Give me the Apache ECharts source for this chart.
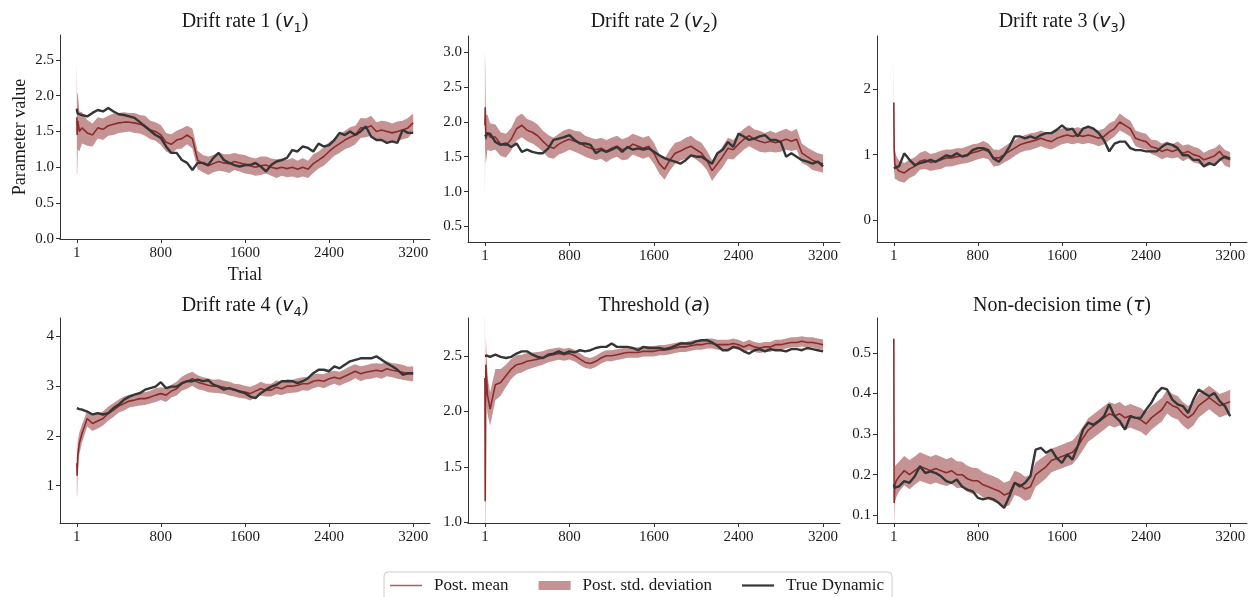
<!DOCTYPE html>
<html>
<head>
<meta charset="utf-8">
<title>Parameter recovery</title>
<script src="https://cdn.jsdelivr.net/npm/echarts@6/dist/echarts.min.js"></script>
<style>
  html, body { margin: 0; padding: 0; background: #ffffff; }
  #chart { width: 1257px; height: 597px; }
</style>
</head>
<body>
<div id="chart"></div>
<script>
// Trials at which each trajectory is sampled
const TRIALS = [1, 4, 10, 25, 50,
  100, 150, 200, 250, 300, 350, 400, 450, 500, 550,
  600, 650, 700, 750, 800, 850, 900, 950, 1000, 1050,
  1100, 1150, 1200, 1250, 1300, 1350, 1400, 1450, 1500, 1550,
  1600, 1650, 1700, 1750, 1800, 1850, 1900, 1950, 2000, 2050,
  2100, 2150, 2200, 2250, 2300, 2350, 2400, 2450, 2500, 2550,
  2600, 2650, 2700, 2750, 2800, 2850, 2900, 2950, 3000, 3050,
  3100, 3150, 3200];

const X_TICKS = [1, 800, 1600, 2400, 3200];

// Drift rate 1
const V1_TRUE = [1.82, 1.78, 1.75, 1.74, 1.73,
  1.71, 1.76, 1.80, 1.78, 1.83, 1.78, 1.74, 1.73, 1.71, 1.69,
  1.63, 1.57, 1.51, 1.45, 1.41, 1.29, 1.20, 1.20, 1.10, 1.06,
  0.96, 1.06, 1.06, 1.03, 1.13, 1.20, 1.10, 1.06, 1.03, 1.01,
  1.03, 1.03, 1.06, 1.01, 0.94, 1.03, 1.08, 1.10, 1.13, 1.24,
  1.22, 1.29, 1.27, 1.22, 1.33, 1.29, 1.31, 1.38, 1.48, 1.45,
  1.50, 1.45, 1.50, 1.57, 1.43, 1.38, 1.38, 1.34, 1.36, 1.34,
  1.52, 1.48, 1.48];
const V1_MEAN = [1.70, 1.45, 1.65, 1.50, 1.55,
  1.48, 1.45, 1.55, 1.53, 1.58, 1.60, 1.62, 1.63, 1.63, 1.62,
  1.60, 1.58, 1.52, 1.50, 1.45, 1.35, 1.32, 1.38, 1.40, 1.45,
  1.40, 1.10, 1.05, 1.02, 1.05, 1.08, 1.06, 1.05, 1.08, 1.06,
  1.04, 1.02, 1.00, 1.02, 1.03, 1.00, 0.98, 1.00, 0.98, 1.00,
  0.97, 1.00, 0.97, 1.05, 1.10, 1.15, 1.22, 1.28, 1.33, 1.38,
  1.42, 1.45, 1.55, 1.55, 1.58, 1.50, 1.52, 1.50, 1.48, 1.50,
  1.52, 1.55, 1.62];
const V1_SD = [0.80, 0.55, 0.40, 0.28, 0.22,
  0.18, 0.16, 0.15, 0.15, 0.14, 0.15, 0.14, 0.14, 0.13, 0.14,
  0.13, 0.14, 0.13, 0.13, 0.14, 0.13, 0.14, 0.13, 0.14, 0.13,
  0.14, 0.13, 0.12, 0.13, 0.12, 0.13, 0.12, 0.13, 0.12, 0.12,
  0.13, 0.12, 0.12, 0.13, 0.12, 0.12, 0.13, 0.12, 0.12, 0.13,
  0.12, 0.13, 0.12, 0.13, 0.12, 0.13, 0.13, 0.12, 0.13, 0.13,
  0.14, 0.13, 0.14, 0.13, 0.14, 0.13, 0.13, 0.14, 0.13, 0.14,
  0.13, 0.14, 0.13];
const V1_TICKS = [0.0, 0.5, 1.0, 1.5, 2.0, 2.5];

// Drift rate 2
const V2_TRUE = [1.79, 1.77, 1.80, 1.83, 1.83,
  1.71, 1.67, 1.69, 1.64, 1.69, 1.57, 1.60, 1.57, 1.55, 1.55,
  1.62, 1.74, 1.76, 1.78, 1.81, 1.74, 1.69, 1.69, 1.67, 1.55,
  1.60, 1.57, 1.60, 1.64, 1.57, 1.64, 1.60, 1.62, 1.60, 1.62,
  1.57, 1.52, 1.48, 1.45, 1.43, 1.40, 1.45, 1.52, 1.50, 1.50,
  1.45, 1.40, 1.55, 1.60, 1.71, 1.64, 1.83, 1.79, 1.74, 1.76,
  1.79, 1.81, 1.74, 1.74, 1.71, 1.50, 1.55, 1.50, 1.45, 1.43,
  1.40, 1.43, 1.36];
const V2_MEAN = [1.95, 2.21, 1.75, 1.85, 1.78,
  1.78, 1.68, 1.66, 1.75, 1.90, 1.95, 1.88, 1.85, 1.80, 1.72,
  1.65, 1.62, 1.68, 1.72, 1.75, 1.72, 1.70, 1.65, 1.62, 1.60,
  1.62, 1.58, 1.62, 1.65, 1.60, 1.62, 1.68, 1.65, 1.62, 1.65,
  1.55, 1.40, 1.32, 1.45, 1.55, 1.58, 1.62, 1.65, 1.60, 1.55,
  1.45, 1.30, 1.40, 1.50, 1.62, 1.60, 1.68, 1.75, 1.80, 1.75,
  1.72, 1.70, 1.72, 1.70, 1.72, 1.75, 1.72, 1.75, 1.55, 1.50,
  1.45, 1.42, 1.40];
const V2_SD = [1.05, 0.60, 0.35, 0.25, 0.20,
  0.18, 0.17, 0.17, 0.16, 0.17, 0.17, 0.16, 0.16, 0.16, 0.15,
  0.16, 0.15, 0.15, 0.16, 0.15, 0.15, 0.16, 0.15, 0.15, 0.15,
  0.15, 0.16, 0.15, 0.15, 0.15, 0.16, 0.15, 0.15, 0.15, 0.15,
  0.15, 0.14, 0.15, 0.15, 0.15, 0.14, 0.15, 0.15, 0.14, 0.15,
  0.14, 0.15, 0.14, 0.15, 0.15, 0.14, 0.15, 0.15, 0.15, 0.14,
  0.15, 0.14, 0.15, 0.14, 0.15, 0.15, 0.14, 0.15, 0.14, 0.13,
  0.14, 0.13, 0.13];
const V2_TICKS = [0.5, 1.0, 1.5, 2.0, 2.5, 3.0];

// Drift rate 3
const V3_TRUE = [0.79, 0.79, 0.80, 0.81, 0.82,
  1.02, 0.92, 0.84, 0.87, 0.89, 0.92, 0.89, 0.94, 0.99, 0.97,
  1.02, 0.97, 0.99, 1.07, 1.10, 1.10, 1.07, 0.94, 0.89, 0.99,
  1.12, 1.28, 1.28, 1.25, 1.28, 1.25, 1.30, 1.33, 1.33, 1.38,
  1.45, 1.38, 1.40, 1.28, 1.40, 1.43, 1.40, 1.33, 1.22, 1.05,
  1.17, 1.20, 1.20, 1.10, 1.07, 1.07, 1.05, 1.05, 1.05, 1.12,
  1.17, 1.15, 1.10, 0.99, 0.99, 0.92, 0.92, 0.82, 0.87, 0.84,
  0.92, 0.97, 0.94];
const V3_MEAN = [1.80, 1.10, 0.85, 0.80, 0.75,
  0.72, 0.78, 0.82, 0.90, 0.92, 0.88, 0.90, 0.92, 0.95, 0.95,
  0.97, 0.98, 1.00, 1.03, 1.05, 1.08, 1.05, 0.95, 0.95, 1.00,
  1.05, 1.10, 1.15, 1.18, 1.20, 1.22, 1.25, 1.22, 1.20, 1.25,
  1.28, 1.30, 1.28, 1.30, 1.28, 1.30, 1.28, 1.25, 1.28, 1.35,
  1.40, 1.50, 1.45, 1.40, 1.25, 1.22, 1.20, 1.12, 1.10, 1.05,
  1.08, 1.05, 1.08, 1.02, 1.05, 1.00, 0.98, 0.92, 0.95, 0.98,
  1.05, 0.95, 0.92];
const V3_SD = [0.70, 0.35, 0.22, 0.18, 0.16,
  0.15, 0.14, 0.14, 0.13, 0.14, 0.13, 0.13, 0.14, 0.13, 0.13,
  0.13, 0.12, 0.13, 0.13, 0.12, 0.13, 0.12, 0.13, 0.12, 0.12,
  0.13, 0.12, 0.12, 0.12, 0.13, 0.12, 0.12, 0.12, 0.12, 0.13,
  0.12, 0.12, 0.12, 0.12, 0.12, 0.12, 0.12, 0.12, 0.12, 0.13,
  0.12, 0.13, 0.12, 0.12, 0.12, 0.12, 0.12, 0.11, 0.12, 0.12,
  0.12, 0.11, 0.12, 0.12, 0.11, 0.12, 0.12, 0.11, 0.12, 0.12,
  0.11, 0.12, 0.12];
const V3_TICKS = [0, 1, 2];

// Drift rate 4
const V4_TRUE = [2.56, 2.55, 2.55, 2.54, 2.53,
  2.49, 2.43, 2.46, 2.43, 2.46, 2.56, 2.63, 2.73, 2.79, 2.83,
  2.86, 2.93, 2.96, 2.99, 3.08, 2.96, 2.99, 2.99, 3.06, 3.10,
  3.10, 3.13, 3.10, 3.12, 3.03, 2.99, 2.93, 2.96, 2.93, 2.89,
  2.86, 2.79, 2.76, 2.86, 2.93, 2.99, 3.03, 3.10, 3.10, 3.10,
  3.06, 3.10, 3.16, 3.26, 3.33, 3.33, 3.30, 3.40, 3.36, 3.43,
  3.50, 3.53, 3.56, 3.56, 3.56, 3.60, 3.53, 3.46, 3.40, 3.33,
  3.23, 3.26, 3.26];
const V4_MEAN = [1.45, 1.20, 1.60, 1.85, 2.05,
  2.35, 2.25, 2.30, 2.35, 2.45, 2.52, 2.60, 2.65, 2.70, 2.72,
  2.75, 2.75, 2.78, 2.82, 2.85, 2.82, 2.90, 2.95, 3.05, 3.10,
  3.15, 3.08, 3.05, 3.02, 3.00, 3.00, 2.98, 2.95, 2.92, 2.90,
  2.88, 2.85, 2.90, 2.95, 2.92, 2.92, 2.98, 2.95, 3.00, 3.00,
  3.02, 3.05, 3.05, 3.10, 3.12, 3.10, 3.15, 3.18, 3.15, 3.20,
  3.25, 3.30, 3.25, 3.28, 3.30, 3.32, 3.30, 3.35, 3.32, 3.30,
  3.28, 3.25, 3.25];
const V4_SD = [0.60, 0.45, 0.30, 0.22, 0.18,
  0.16, 0.15, 0.15, 0.14, 0.14, 0.14, 0.13, 0.14, 0.13, 0.13,
  0.14, 0.13, 0.13, 0.14, 0.13, 0.14, 0.13, 0.14, 0.14, 0.15,
  0.14, 0.14, 0.13, 0.14, 0.13, 0.14, 0.13, 0.14, 0.13, 0.14,
  0.13, 0.14, 0.13, 0.14, 0.13, 0.13, 0.14, 0.13, 0.14, 0.13,
  0.14, 0.13, 0.14, 0.14, 0.13, 0.14, 0.14, 0.13, 0.14, 0.14,
  0.15, 0.14, 0.15, 0.14, 0.15, 0.14, 0.15, 0.15, 0.14, 0.15,
  0.15, 0.14, 0.15];
const V4_TICKS = [1, 2, 3, 4];

// Threshold
const A_TRUE = [2.50, 2.50, 2.49, 2.50, 2.49,
  2.51, 2.49, 2.48, 2.49, 2.52, 2.54, 2.54, 2.51, 2.49, 2.48,
  2.51, 2.52, 2.54, 2.52, 2.54, 2.53, 2.55, 2.54, 2.55, 2.57,
  2.58, 2.58, 2.61, 2.58, 2.58, 2.58, 2.57, 2.55, 2.58, 2.57,
  2.57, 2.57, 2.56, 2.57, 2.59, 2.61, 2.61, 2.61, 2.63, 2.64,
  2.64, 2.62, 2.59, 2.55, 2.55, 2.58, 2.57, 2.54, 2.52, 2.55,
  2.56, 2.54, 2.56, 2.55, 2.55, 2.54, 2.56, 2.56, 2.55, 2.57,
  2.56, 2.55, 2.54];
const A_MEAN = [2.30, 1.19, 2.42, 2.15, 2.02,
  2.24, 2.26, 2.32, 2.38, 2.42, 2.43, 2.45, 2.46, 2.47, 2.48,
  2.50, 2.51, 2.52, 2.51, 2.52, 2.50, 2.47, 2.44, 2.43, 2.45,
  2.48, 2.50, 2.50, 2.51, 2.52, 2.53, 2.53, 2.53, 2.54, 2.54,
  2.54, 2.55, 2.55, 2.56, 2.57, 2.58, 2.58, 2.59, 2.60, 2.60,
  2.61, 2.61, 2.60, 2.60, 2.60, 2.61, 2.60, 2.58, 2.60, 2.58,
  2.57, 2.58, 2.58, 2.60, 2.60, 2.61, 2.62, 2.62, 2.63, 2.62,
  2.62, 2.61, 2.60];
const A_SD = [0.90, 0.60, 0.25, 0.17, 0.15,
  0.14, 0.12, 0.10, 0.09, 0.085, 0.08, 0.075, 0.07, 0.065, 0.06,
  0.058, 0.056, 0.055, 0.054, 0.053, 0.052, 0.052, 0.051, 0.05, 0.05,
  0.05, 0.05, 0.049, 0.049, 0.048, 0.048, 0.048, 0.047, 0.047, 0.047,
  0.047, 0.046, 0.046, 0.046, 0.046, 0.046, 0.045, 0.045, 0.045, 0.045,
  0.045, 0.045, 0.045, 0.045, 0.045, 0.045, 0.045, 0.045, 0.045, 0.045,
  0.045, 0.045, 0.045, 0.045, 0.045, 0.045, 0.046, 0.046, 0.046, 0.046,
  0.046, 0.046, 0.046];
const A_TICKS = [1.0, 1.5, 2.0, 2.5];

// Non-decision time
const T_TRUE = [0.176, 0.172, 0.168, 0.172, 0.171,
  0.184, 0.180, 0.196, 0.221, 0.204, 0.208, 0.204, 0.196, 0.184, 0.180,
  0.188, 0.171, 0.163, 0.159, 0.143, 0.139, 0.143, 0.139, 0.130, 0.118,
  0.147, 0.180, 0.171, 0.180, 0.196, 0.262, 0.266, 0.254, 0.262, 0.241,
  0.229, 0.250, 0.237, 0.270, 0.311, 0.328, 0.323, 0.332, 0.344, 0.373,
  0.344, 0.332, 0.311, 0.344, 0.340, 0.340, 0.360, 0.377, 0.401, 0.414,
  0.410, 0.385, 0.373, 0.369, 0.352, 0.385, 0.410, 0.401, 0.393, 0.401,
  0.381, 0.369, 0.344];
const T_MEAN = [0.535, 0.130, 0.175, 0.185, 0.195,
  0.210, 0.200, 0.210, 0.220, 0.215, 0.210, 0.215, 0.210, 0.205, 0.210,
  0.200, 0.200, 0.190, 0.185, 0.185, 0.175, 0.170, 0.165, 0.160, 0.150,
  0.155, 0.180, 0.175, 0.165, 0.170, 0.200, 0.210, 0.220, 0.235, 0.240,
  0.245, 0.250, 0.255, 0.270, 0.290, 0.310, 0.320, 0.330, 0.340, 0.350,
  0.345, 0.350, 0.340, 0.345, 0.340, 0.335, 0.325, 0.340, 0.350, 0.360,
  0.380, 0.370, 0.365, 0.350, 0.340, 0.350, 0.370, 0.380, 0.390, 0.380,
  0.370, 0.375, 0.380];
const T_SD = [0.050, 0.060, 0.045, 0.040, 0.037,
  0.036, 0.036, 0.035, 0.035, 0.035, 0.034, 0.034, 0.034, 0.033, 0.033,
  0.033, 0.032, 0.032, 0.032, 0.031, 0.031, 0.031, 0.031, 0.030, 0.030,
  0.030, 0.030, 0.030, 0.030, 0.030, 0.030, 0.030, 0.029, 0.029, 0.029,
  0.029, 0.029, 0.029, 0.029, 0.029, 0.029, 0.029, 0.029, 0.029, 0.029,
  0.029, 0.029, 0.029, 0.029, 0.029, 0.029, 0.029, 0.029, 0.029, 0.029,
  0.029, 0.029, 0.029, 0.029, 0.029, 0.029, 0.029, 0.029, 0.029, 0.029,
  0.029, 0.029, 0.029];
const T_TICKS = [0.1, 0.2, 0.3, 0.4, 0.5];

// ---- styling & layout ----
const SERIF = "'Liberation Serif', 'DejaVu Serif', serif";
const MATH = "'DejaVu Sans', sans-serif";
const TEXT_COLOR = '#1a1a1a';
const AXIS_COLOR = '#333333';
const MEAN_COLOR = '#8b2c2c';
const BAND_COLOR = 'rgba(140, 40, 40, 0.5)';
const TRUE_COLOR = '#353535';

const PANELS = [
  { title: '{t|Drift rate 1 (}{m|v}{s|1}{t|)}', grid: { left: 60, top: 35, width: 370, height: 204 },
    yMin: -0.005, yMax: 2.85, ticks: V1_TICKS, dec: 1, truth: V1_TRUE, mean: V1_MEAN, sd: V1_SD },
  { title: '{t|Drift rate 2 (}{m|v}{s|2}{t|)}', grid: { left: 468, top: 36, width: 372, height: 206 },
    yMin: 0.277, yMax: 3.23, ticks: V2_TICKS, dec: 1, truth: V2_TRUE, mean: V2_MEAN, sd: V2_SD },
  { title: '{t|Drift rate 3 (}{m|v}{s|3}{t|)}', grid: { left: 877, top: 36, width: 370, height: 206 },
    yMin: -0.34, yMax: 2.82, ticks: V3_TICKS, dec: 0, truth: V3_TRUE, mean: V3_MEAN, sd: V3_SD },
  { title: '{t|Drift rate 4 (}{m|v}{s|4}{t|)}', grid: { left: 60, top: 318, width: 370, height: 205 },
    yMin: 0.25, yMax: 4.37, ticks: V4_TICKS, dec: 0, truth: V4_TRUE, mean: V4_MEAN, sd: V4_SD },
  { title: '{t|Threshold (}{m|a}{t|)}', grid: { left: 468, top: 318, width: 372, height: 205 },
    yMin: 0.995, yMax: 2.84, ticks: A_TICKS, dec: 1, truth: A_TRUE, mean: A_MEAN, sd: A_SD },
  { title: '{t|Non-decision time (}{m|τ}{t|)}', grid: { left: 877, top: 318, width: 370, height: 205 },
    yMin: 0.081, yMax: 0.586, ticks: T_TICKS, dec: 1, truth: T_TRUE, mean: T_MEAN, sd: T_SD }
];

const titleRich = {
  t: { fontFamily: SERIF, fontSize: 20, fill: TEXT_COLOR, lineHeight: 26 },
  m: { fontFamily: MATH, fontStyle: 'italic', fontSize: 19, fill: TEXT_COLOR, lineHeight: 26 },
  s: { fontFamily: MATH, fontSize: 13, fill: TEXT_COLOR, lineHeight: 13, verticalAlign: 'bottom' }
};

const grids = [], xAxes = [], yAxes = [], series = [], graphics = [];

PANELS.forEach((p, i) => {
  grids.push(Object.assign({ containLabel: false }, p.grid));

  xAxes.push({
    type: 'value', gridIndex: i, min: -159, max: 3360,
    name: i === 0 ? 'Trial' : '', nameLocation: 'middle', nameGap: 27,
    nameTextStyle: { fontFamily: SERIF, fontSize: 18, color: TEXT_COLOR },
    axisLine: { show: true, onZero: false, lineStyle: { color: AXIS_COLOR, width: 1 } },
    axisTick: { show: true, length: 4, customValues: X_TICKS, lineStyle: { color: AXIS_COLOR } },
    axisLabel: { customValues: X_TICKS, margin: 7, fontFamily: SERIF, fontSize: 15, color: TEXT_COLOR,
      formatter: v => String(v) },
    splitLine: { show: false }
  });

  yAxes.push({
    type: 'value', gridIndex: i, min: p.yMin, max: p.yMax,
    name: i === 0 ? 'Parameter value' : '', nameLocation: 'middle', nameGap: 31,
    nameTextStyle: { fontFamily: SERIF, fontSize: 18, color: TEXT_COLOR },
    axisLine: { show: true, onZero: false, lineStyle: { color: AXIS_COLOR, width: 1 } },
    axisTick: { show: true, length: 4, customValues: p.ticks, lineStyle: { color: AXIS_COLOR } },
    axisLabel: { customValues: p.ticks, margin: 6, fontFamily: SERIF, fontSize: 15, color: TEXT_COLOR,
      formatter: v => Number(v).toFixed(p.dec) },
    splitLine: { show: false }
  });

  // posterior mean ± one standard deviation
  const band = TRIALS.map((t, k) => [t, p.mean[k] - p.sd[k], p.mean[k] + p.sd[k]]);
  series.push({
    type: 'custom', name: 'Post. std. deviation', xAxisIndex: i, yAxisIndex: i,
    clip: true, silent: true, z: 2,
    itemStyle: { color: BAND_COLOR },
    data: band,
    encode: { x: 0, y: [1, 2] },
    renderItem: (params, api) => {
      if (params.dataIndex !== 0) return null;
      const upper = band.map(d => api.coord([d[0], d[2]]));
      const lower = band.map(d => api.coord([d[0], d[1]])).reverse();
      return {
        type: 'polygon',
        shape: { points: upper.concat(lower) },
        style: { fill: BAND_COLOR, stroke: null }
      };
    }
  });

  series.push({
    type: 'line', name: 'Post. mean', xAxisIndex: i, yAxisIndex: i,
    data: TRIALS.map((t, k) => [t, p.mean[k]]),
    symbol: 'none', z: 3, silent: true,
    lineStyle: { color: MEAN_COLOR, width: 1.6 },
    itemStyle: { color: MEAN_COLOR }
  });

  series.push({
    type: 'line', name: 'True Dynamic', xAxisIndex: i, yAxisIndex: i,
    data: TRIALS.map((t, k) => [t, p.truth[k]]),
    symbol: 'none', z: 4, silent: true,
    lineStyle: { color: TRUE_COLOR, width: 2.4 },
    itemStyle: { color: TRUE_COLOR }
  });

  graphics.push({
    type: 'text',
    x: p.grid.left + p.grid.width / 2,
    y: i < 3 ? 22 : 306,
    silent: true,
    style: { text: p.title, rich: titleRich, align: 'center', verticalAlign: 'middle' }
  });
});

const chart = echarts.init(document.getElementById('chart'), null, { renderer: 'canvas' });
chart.setOption({
  animation: false,
  backgroundColor: '#ffffff',
  grid: grids,
  xAxis: xAxes,
  yAxis: yAxes,
  series: series,
  graphic: graphics,
  legend: {
    left: 384, top: 572,
    orient: 'horizontal',
    itemWidth: 32, itemHeight: 9, itemGap: 30,
    symbolKeepAspect: true,
    padding: [5, 8, 8, 6],
    borderColor: '#cccccc', borderWidth: 1, borderRadius: 4,
    backgroundColor: '#ffffff',
    selectedMode: false,
    textStyle: { fontFamily: SERIF, fontSize: 17, color: TEXT_COLOR, padding: [0, 0, 0, 7] },
    data: [
      { name: 'Post. mean', icon: 'path://M0,0 L32,0 L32,1.5 L0,1.5 Z',
        itemStyle: { color: 'rgba(139,44,44,0.75)', borderWidth: 0 } },
      { name: 'Post. std. deviation', icon: 'rect', itemStyle: { color: BAND_COLOR, borderWidth: 0 } },
      { name: 'True Dynamic', icon: 'path://M0,0 L32,0 L32,2.2 L0,2.2 Z',
        itemStyle: { color: TRUE_COLOR, borderWidth: 0 } }
    ]
  }
});
</script>
</body>
</html>
